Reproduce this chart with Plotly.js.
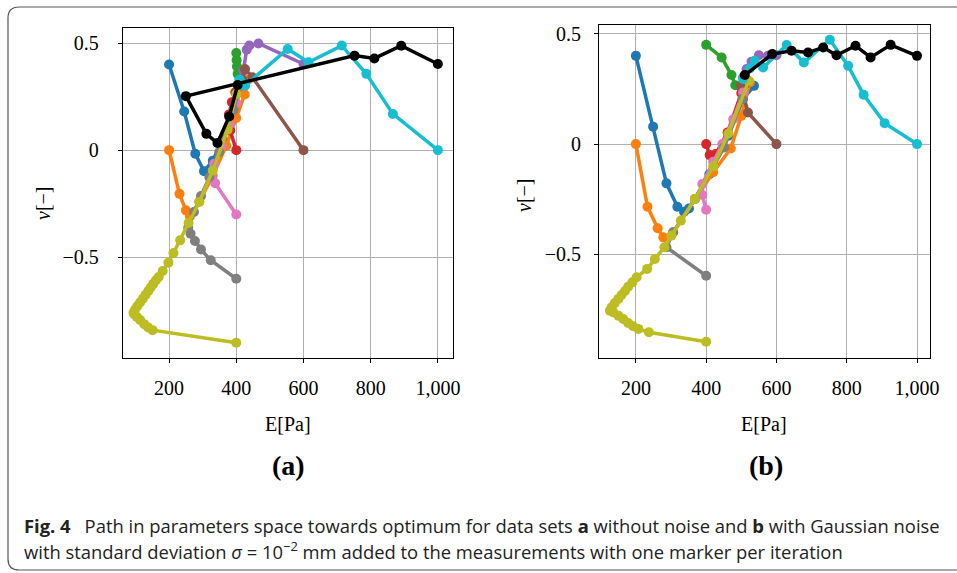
<!DOCTYPE html>
<html><head><meta charset="utf-8">
<script src="https://cdn.plot.ly/plotly-3.0.1.min.js"></script>
<style>html,body{margin:0;padding:0;background:#fff}#chart{width:957px;height:573px}</style>
</head><body><div id="chart"></div>
<script>
// ---- Panel (a): without noise ----
const a_blue_E   = [200,245,278,304,330,360,390,410,420];
const a_blue_nu  = [0.40,0.18,-0.017,-0.098,-0.05,0.05,0.17,0.27,0.32];
const a_orange_E = [200,231,250,262,290,330,370,400,425,436];
const a_orange_nu= [0,-0.204,-0.281,-0.31,-0.24,-0.12,0.02,0.15,0.26,0.33];
const a_green_E  = [400,401,402,404,410];
const a_green_nu = [0.453,0.42,0.39,0.356,0.33];
const a_red_E    = [400,382,378,387,397,410];
const a_red_nu   = [0,0.092,0.166,0.224,0.27,0.31];
const a_purple_E = [600,466,439,431,421,415];
const a_purple_nu= [0.402,0.498,0.488,0.469,0.371,0.33];
const a_brown_E  = [600,448,426,418];
const a_brown_nu = [0,0.34,0.379,0.33];
const a_pink_E   = [400,337,334,357,380,400,415];
const a_pink_nu  = [-0.3,-0.154,-0.064,0.02,0.12,0.22,0.31];
const a_gray_E   = [400,324,295,277,264,257,274,295,320,349,392,412];
const a_gray_nu  = [-0.6,-0.514,-0.464,-0.424,-0.39,-0.362,-0.289,-0.214,-0.126,-0.009,0.188,0.3];
const a_olive_E  = [400,151,138,126,114,104,96,94,99,106,114,122,130,138,145,153,161,169,181,198,213,233,258,290,330,374,400,412];
const a_olive_nu = [-0.899,-0.84,-0.828,-0.812,-0.793,-0.778,-0.766,-0.759,-0.744,-0.727,-0.71,-0.693,-0.675,-0.658,-0.641,-0.624,-0.607,-0.592,-0.564,-0.525,-0.48,-0.421,-0.34,-0.242,-0.095,0.095,0.262,0.31];
const a_cyan_E   = [1000,866,787,714,615,553,426,410];
const a_cyan_nu  = [0,0.169,0.356,0.488,0.41,0.472,0.301,0.33];
const a_black_E  = [1000,891,811,752,250,311,344,379,404];
const a_black_nu = [0.402,0.487,0.428,0.441,0.252,0.076,0.033,0.157,0.304];

// ---- Panel (b): with Gaussian noise ----
const b_blue_E   = [200,249,287,318,337,351,409,463,505,536];
const b_blue_nu  = [0.40,0.079,-0.178,-0.284,-0.307,-0.292,-0.137,0.038,0.204,0.264];
const b_orange_E = [200,233,262,278,306,368,420,470,500,524];
const b_orange_nu= [0,-0.284,-0.382,-0.423,-0.4,-0.249,-0.128,-0.02,0.128,0.28];
const b_green_E  = [400,444,472,483,500];
const b_green_nu = [0.45,0.393,0.313,0.267,0.257];
const b_red_E    = [400,410,427,461,500,510];
const b_red_nu   = [0,-0.05,-0.045,0.053,0.231,0.272];
const b_purple_E = [600,576,550,529,515,505];
const b_purple_nu= [0.403,0.40,0.403,0.373,0.34,0.302];
const b_brown_E  = [600,519,499];
const b_brown_nu = [0,0.143,0.264];
const b_pink_E   = [400,389,389,420,446,477,505];
const b_pink_nu  = [-0.298,-0.231,-0.181,-0.08,0,0.113,0.234];
const b_gray_E   = [400,287,306,368,451,503];
const b_gray_nu  = [-0.597,-0.468,-0.4,-0.249,-0.015,0.204];
const b_olive_E  = [400,237,207,192,178,164,150,136,126,131,140,150,159,169,178,190,202,232,254,281,301,328,368,420,463,521];
const b_olive_nu = [-0.896,-0.853,-0.838,-0.826,-0.811,-0.793,-0.778,-0.763,-0.755,-0.74,-0.721,-0.702,-0.684,-0.666,-0.647,-0.627,-0.604,-0.566,-0.521,-0.468,-0.415,-0.347,-0.249,-0.101,0.048,0.287];
const b_cyan_E   = [1000,908,848,804,752,678,629,562,538,524,505];
const b_cyan_nu  = [0,0.095,0.224,0.355,0.473,0.37,0.449,0.347,0.378,0.343,0.295];
const b_black_E  = [1000,925,868,825,771,733,690,643,588,510];
const b_black_nu = [0.4,0.45,0.393,0.446,0.403,0.438,0.415,0.423,0.408,0.313];

const colors = ['#1f77b4','#ff7f0e','#2ca02c','#d62728','#9467bd','#8c564b','#e377c2','#7f7f7f','#bcbd22','#17becf','#000000'];
const seriesA = [[a_blue_E,a_blue_nu],[a_orange_E,a_orange_nu],[a_green_E,a_green_nu],[a_red_E,a_red_nu],[a_purple_E,a_purple_nu],[a_brown_E,a_brown_nu],[a_pink_E,a_pink_nu],[a_gray_E,a_gray_nu],[a_olive_E,a_olive_nu],[a_cyan_E,a_cyan_nu],[a_black_E,a_black_nu]];
const seriesB = [[b_blue_E,b_blue_nu],[b_orange_E,b_orange_nu],[b_green_E,b_green_nu],[b_red_E,b_red_nu],[b_purple_E,b_purple_nu],[b_brown_E,b_brown_nu],[b_pink_E,b_pink_nu],[b_gray_E,b_gray_nu],[b_olive_E,b_olive_nu],[b_cyan_E,b_cyan_nu],[b_black_E,b_black_nu]];

const xTicks = [200,400,600,800,1000];
const xTickText = ['200','400','600','800','1,000'];
const yTicks = [-0.5,0,0.5];
const yTickText = ['\u22120.5','0','0.5'];

const traces = [];
function addSeries(list, xa, ya){
  list.forEach((s,i)=>{
    traces.push({x:s[0], y:s[1], xaxis:xa, yaxis:ya, type:'scatter', mode:'lines+markers',
      line:{color:colors[i], width:3.5}, marker:{color:colors[i], size:10}, showlegend:false, hoverinfo:'skip'});
  });
}
addSeries(seriesA,'x','y');
addSeries(seriesB,'x2','y2');

const W=957,H=573;
const px = v=>v/W, py = v=>1-v/H;
const serif = "'Liberation Serif', 'DejaVu Serif', serif";
const sans = "'Open Sans', 'Noto Sans', sans-serif";
const axBase = {showline:true, mirror:true, linecolor:'#000', linewidth:1, showgrid:true, gridcolor:'#b0b0b0', gridwidth:1,
  zeroline:false, ticks:'outside', ticklen:4, tickcolor:'#000', tickfont:{family:serif, size:20, color:'#000'}};

function ann(text, x, y, opts){
  return Object.assign({text:text, xref:'paper', yref:'paper', x:px(x), y:py(y), xanchor:'center', yanchor:'middle', showarrow:false}, opts);
}

const layout = {
  width:W, height:H, margin:{l:0,r:0,t:0,b:0}, paper_bgcolor:'#fff', plot_bgcolor:'#fff', showlegend:false,
  xaxis: Object.assign({}, axBase, {domain:[px(122.7),px(453)], range:[62,1045], tickvals:xTicks, ticktext:xTickText, anchor:'y', ticklabelstandoff:8}),
  yaxis: Object.assign({}, axBase, {domain:[py(358),py(28)], range:[-0.97,0.57], tickvals:yTicks, ticktext:yTickText, anchor:'x', ticklabelstandoff:15}),
  xaxis2: Object.assign({}, axBase, {domain:[px(599),px(930)], range:[95,1037], tickvals:xTicks, ticktext:xTickText, anchor:'y2', ticklabelstandoff:8}),
  yaxis2: Object.assign({}, axBase, {domain:[py(358),py(25)], range:[-0.97,0.54], tickvals:yTicks, ticktext:yTickText, anchor:'x2', ticklabelstandoff:9}),
  shapes:[{type:'path', xref:'paper', yref:'paper',
    path:`M ${px(960)} ${py(7)} L ${px(19)} ${py(7)} Q ${px(8)} ${py(7)} ${px(8)} ${py(18)} L ${px(8)} ${py(559)} Q ${px(8)} ${py(570)} ${px(19)} ${py(570)} L ${px(960)} ${py(570)}`,
    line:{color:'#555', width:1.2}}],
  annotations:[
    ann('E[Pa]', 288, 424, {font:{family:serif,size:20,color:'#000'}}),
    ann('E[Pa]', 764, 424, {font:{family:serif,size:20,color:'#000'}}),
    ann('<i>ν</i>[−]', 43, 203, {textangle:-90, font:{family:serif,size:20,color:'#000'}}),
    ann('<i>ν</i>[−]', 524, 195, {textangle:-90, font:{family:serif,size:20,color:'#000'}}),
    ann('<b>(a)</b>', 288, 465, {font:{family:serif,size:28,color:'#000'}}),
    ann('<b>(b)</b>', 766, 465, {font:{family:serif,size:28,color:'#000'}}),
    ann('<b>Fig. 4</b>\u2002 Path in parameters space towards optimum for data sets <b>a</b> without noise and <b>b</b> with Gaussian noise',
      22, 525, {xanchor:'left', font:{family:sans, size:18.4, color:'#222'}}),
    ann('with standard deviation <i>σ</i> = 10<sup>−2</sup> mm added to the measurements with one marker per iteration',
      22, 550, {xanchor:'left', font:{family:sans, size:18.4, color:'#222'}})
  ]
};
Plotly.newPlot('chart', traces, layout, {staticPlot:true, displayModeBar:false});
</script></body></html>
